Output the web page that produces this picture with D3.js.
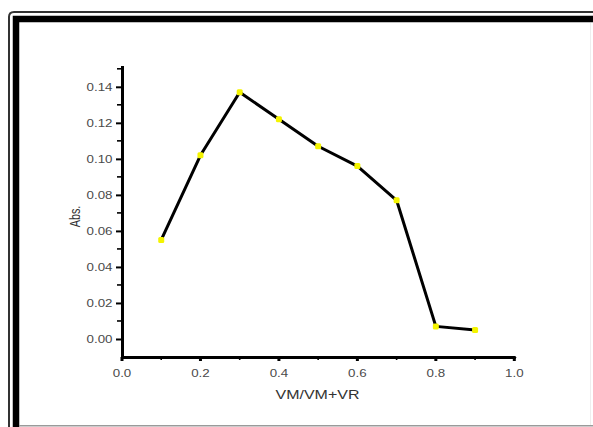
<!DOCTYPE html>
<html>
<head>
<meta charset="utf-8">
<script src="https://cdn.jsdelivr.net/npm/d3@7/dist/d3.min.js"></script>
<style>
  html, body { margin: 0; padding: 0; background: #fff; }
  svg { display: block; }
  text { font-family: "Liberation Sans", Arial, sans-serif; }
</style>
</head>
<body>
<svg id="chart" width="593" height="427"></svg>
<script>
// mole fraction values and measured absorbance
var fractions = [0.1, 0.2, 0.3, 0.4, 0.5, 0.6, 0.7, 0.8, 0.9];
var absValues = [0.055, 0.102, 0.137, 0.122, 0.107, 0.096, 0.077, 0.007, 0.005];
var xTicks = [0.0, 0.2, 0.4, 0.6, 0.8, 1.0];
var xMinor = [0.1, 0.3, 0.5, 0.7, 0.9];
var yTicks = [0.00, 0.02, 0.04, 0.06, 0.08, 0.10, 0.12, 0.14];
var yMinor = [0.01, 0.03, 0.05, 0.07, 0.09, 0.11, 0.13, 0.15];
var xTitle = "VM/VM+VR";
var yTitle = "Abs.";

var svg = d3.select("#chart");
var stretch = 1.27;

// frame round the figure
svg.append("path")
  .attr("d", "M9,600 L9,17 Q9,12 14,12 L600,12")
  .attr("fill", "none")
  .attr("stroke", "#333")
  .attr("stroke-width", 2);
svg.append("path")
  .attr("d", "M16,430 L16,19 L600,19")
  .attr("fill", "none")
  .attr("stroke", "#000")
  .attr("stroke-width", 6.5);
svg.append("line")
  .attr("x1", 19).attr("x2", 593)
  .attr("y1", 425.8).attr("y2", 425.8)
  .attr("stroke", "#9a9a9a")
  .attr("stroke-width", 1.6);
svg.append("line")
  .attr("x1", 590.5).attr("x2", 590.5)
  .attr("y1", 23).attr("y2", 425)
  .attr("stroke", "#eee")
  .attr("stroke-width", 1);

// scales
var x = d3.scaleLinear().domain([0, 1]).range([122, 514.3]),
    y = d3.scaleLinear().domain([-0.01, 0.151]).range([357, 67]);

// minor ticks
svg.append("g").selectAll("line")
  .data(yMinor)
  .enter().append("line")
    .attr("x1", 121).attr("x2", 117)
    .attr("y1", function(d) { return y(d); })
    .attr("y2", function(d) { return y(d); })
    .attr("stroke", "#000")
    .attr("stroke-width", 1.6);
svg.append("g").selectAll("line")
  .data(xMinor)
  .enter().append("line")
    .attr("x1", function(d) { return x(d); })
    .attr("x2", function(d) { return x(d); })
    .attr("y1", 357).attr("y2", 360)
    .attr("stroke", "#000")
    .attr("stroke-width", 1.6);

// y axis
var gy = svg.append("g")
  .attr("transform", "translate(" + x(0) + ",0)")
  .call(d3.axisLeft(y).tickValues(yTicks).tickSize(6).tickSizeOuter(0)
    .tickFormat(d3.format(".2f")));
gy.select(".domain").attr("stroke-width", 3).attr("stroke-linecap", "square");
gy.selectAll(".tick line").attr("stroke-width", 2);
gy.selectAll(".tick text")
  .attr("x", -7.5)
  .attr("dy", "0.36em")
  .attr("transform", "scale(" + stretch + ",1)")
  .style("font-size", "10.5px")
  .attr("fill", "#4a4a4a");

// x axis
var gx = svg.append("g")
  .attr("transform", "translate(0," + y(-0.01) + ")")
  .call(d3.axisBottom(x).tickValues(xTicks).tickSize(4).tickSizeOuter(0)
    .tickFormat(d3.format(".1f")));
gx.select(".domain").attr("stroke-width", 3).attr("stroke-linecap", "round");
gx.selectAll(".tick line").attr("stroke-width", 3);
gx.selectAll(".tick text")
  .attr("y", 20)
  .attr("dy", 0)
  .attr("transform", "scale(" + stretch + ",1)")
  .attr("x", 0)
  .style("font-size", "10.5px")
  .attr("fill", "#4a4a4a");
// keep labels centred on their ticks after the stretch
gx.selectAll(".tick").each(function(d) {
  d3.select(this).attr("transform", "translate(" + x(d) + ",0)");
});

// axis titles
svg.append("text")
  .attr("transform", "translate(317.5,398.5) scale(1.3,1)")
  .attr("text-anchor", "middle")
  .style("font-size", "12.3px")
  .attr("fill", "#333")
  .text(xTitle);
svg.append("text")
  .attr("transform", "translate(79.5,216.5) scale(1.3,1) rotate(-90)")
  .attr("text-anchor", "middle")
  .style("font-size", "10.8px")
  .attr("fill", "#333")
  .text(yTitle);

// data line
var data = fractions.map(function(f, i) { return {f: f, v: absValues[i]}; });
var line = d3.line()
  .x(function(d) { return x(d.f); })
  .y(function(d) { return y(d.v); });
svg.append("path")
  .datum(data)
  .attr("d", line)
  .attr("fill", "none")
  .attr("stroke", "#000")
  .attr("stroke-width", 3)
  .attr("stroke-linejoin", "round");

// yellow markers
svg.append("g").selectAll("rect")
  .data(data)
  .enter().append("rect")
    .attr("x", function(d) { return x(d.f) - 3; })
    .attr("y", function(d) { return y(d.v) - 3; })
    .attr("width", 6)
    .attr("height", 6)
    .attr("rx", 1.5)
    .attr("fill", "#f4f400");
</script>
</body>
</html>
